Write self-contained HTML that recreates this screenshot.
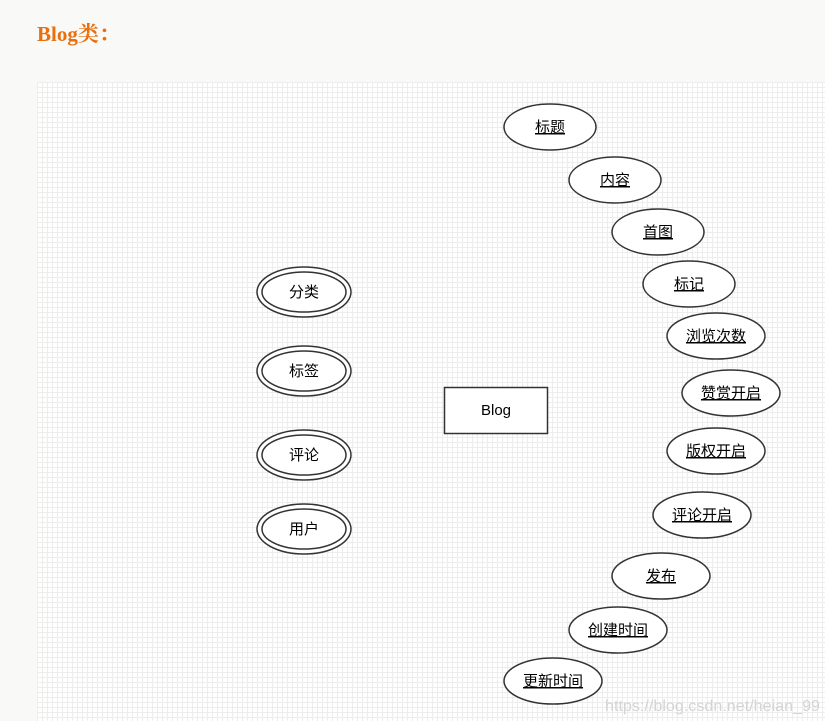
<!DOCTYPE html>
<html><head><meta charset="utf-8">
<style>
html,body{margin:0;padding:0;background:#f9f9f7;width:825px;height:721px;overflow:hidden}
svg{position:absolute;left:0;top:0}
</style></head>
<body>
<svg width="825" height="721" xmlns="http://www.w3.org/2000/svg">
<defs>
<pattern id="g" x="37" y="82" width="5" height="5" patternUnits="userSpaceOnUse">
<rect width="5" height="5" fill="#ffffff"/>
<path d="M0 0.5H5M0.5 0V5" stroke="#ededed" stroke-width="1"/>
</pattern>
</defs>
<text x="37" y="41" font-family="Liberation Serif, 'Noto Serif CJK SC', serif" font-weight="bold" font-size="21" fill="#e8700f">Blog类：</text>
<rect x="37" y="82" width="788" height="639" fill="url(#g)"/>
<g fill="#fff" stroke="#333" stroke-width="1.5">
<ellipse cx="304" cy="292" rx="47" ry="25"/><ellipse cx="304" cy="292" rx="42" ry="20"/>
<ellipse cx="304" cy="371" rx="47" ry="25"/><ellipse cx="304" cy="371" rx="42" ry="20"/>
<ellipse cx="304" cy="455" rx="47" ry="25"/><ellipse cx="304" cy="455" rx="42" ry="20"/>
<ellipse cx="304" cy="529" rx="47" ry="25"/><ellipse cx="304" cy="529" rx="42" ry="20"/>
<rect x="444.5" y="387.5" width="103" height="46"/>
<ellipse cx="550" cy="127" rx="46" ry="23"/>
<ellipse cx="615" cy="180" rx="46" ry="23"/>
<ellipse cx="658" cy="232" rx="46" ry="23"/>
<ellipse cx="689" cy="284" rx="46" ry="23"/>
<ellipse cx="716" cy="336" rx="49" ry="23"/>
<ellipse cx="731" cy="393" rx="49" ry="23"/>
<ellipse cx="716" cy="451" rx="49" ry="23"/>
<ellipse cx="702" cy="515" rx="49" ry="23"/>
<ellipse cx="661" cy="576" rx="49" ry="23"/>
<ellipse cx="618" cy="630" rx="49" ry="23"/>
<ellipse cx="553" cy="681" rx="49" ry="23"/>
</g>
<g font-family="Liberation Sans, 'Noto Sans CJK SC', sans-serif" font-size="15" fill="#000" text-anchor="middle">
<text x="304" y="297">分类</text>
<text x="304" y="376">标签</text>
<text x="304" y="460">评论</text>
<text x="304" y="534">用户</text>
<text x="496" y="415">Blog</text>
<g text-decoration="underline">
<text x="550" y="132">标题</text>
<text x="615" y="185">内容</text>
<text x="658" y="237">首图</text>
<text x="689" y="289">标记</text>
<text x="716" y="341">浏览次数</text>
<text x="731" y="398">赞赏开启</text>
<text x="716" y="456">版权开启</text>
<text x="702" y="520">评论开启</text>
<text x="661" y="581">发布</text>
<text x="618" y="635">创建时间</text>
<text x="553" y="686">更新时间</text>
</g>
</g>
<text x="605" y="711" font-family="Liberation Sans, sans-serif" font-size="16" textLength="215" lengthAdjust="spacingAndGlyphs" fill="#d4d4d4">https://blog.csdn.net/heian_99</text>
</svg>
</body></html>
